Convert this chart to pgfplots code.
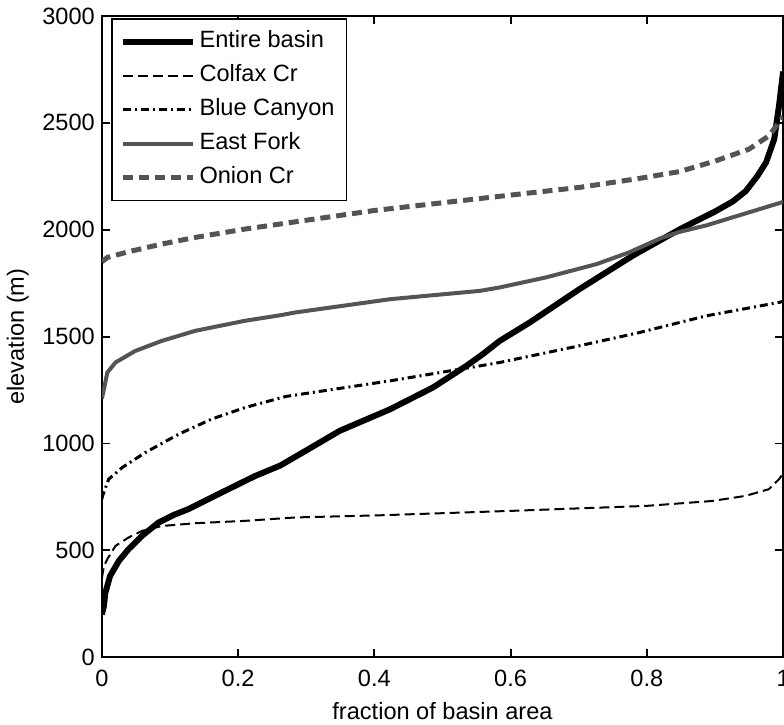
\documentclass[border=0pt]{standalone}
\usepackage{fontspec}
\setmainfont{Liberation Sans}
\usepackage{pgfplots}
\pgfplotsset{compat=1.18}
\begin{document}
\begin{tikzpicture}
\begin{axis}[
    scale only axis,
    width=341pt, height=321pt,
    xmin=0, xmax=1, ymin=0, ymax=3000,
    xtick={0,0.2,0.4,0.6,0.8,1},
    ytick={0,500,1000,1500,2000,2500,3000},
    tick align=inside,
    major tick length=4pt,
    axis line style={line width=0.9pt},
    every tick/.style={line width=0.9pt, black},
    /pgf/number format/assume math mode=true,
    /pgf/number format/1000 sep={},
    tick label style={font=\fontsize{11.8}{14}\selectfont},
    xticklabel style={yshift=-3pt},
    label style={font=\fontsize{11.8}{14}\selectfont},
    xlabel={fraction of basin area},
    xlabel style={yshift=-1pt},
    ylabel={elevation (m)},
    legend cell align=left,
    legend image code/.code={\draw[#1] (0pt,0pt) -- (35pt,0pt);},
    legend style={at={(0.013,0.997)}, anchor=north west, draw=black,
        line width=0.9pt, inner xsep=4pt, inner ysep=3pt, row sep=0pt,
        font=\fontsize{11.8}{14}\selectfont,
        nodes={text height=8.3pt, text depth=2.5pt, inner ysep=3.1pt}},
]
\coordinate (sw) at (rel axis cs:0,0);
\coordinate (ne) at (rel axis cs:1,1);

% Entire basin
\addplot[black, line width=3pt] coordinates {
(0,200) (0.003,240) (0.005,300) (0.012,380) (0.025,451) (0.039,505)
(0.059,568) (0.083,630) (0.105,665) (0.127,693) (0.176,771) (0.225,848)
(0.262,897) (0.303,973) (0.349,1059) (0.423,1160) (0.486,1262) (0.535,1363)
(0.56,1420) (0.584,1480) (0.628,1566) (0.701,1722) (0.78,1880) (0.85,2005)
(0.9,2085) (0.926,2132) (0.945,2180) (0.962,2250) (0.975,2315) (0.987,2424)
(0.994,2580) (1.0,2740)
};
\addlegendentry{Entire basin}

% Colfax Cr
\addplot[black, line width=1pt, dash pattern=on 5pt off 2.5pt] coordinates {
(0,370) (0.003,427) (0.008,459) (0.02,521) (0.039,560) (0.059,591)
(0.088,614) (0.137,627) (0.21,638) (0.284,654) (0.408,664) (0.603,685)
(0.799,708) (0.896,731) (0.945,755) (0.979,786) (0.994,833) (1.0,860)
};
\addlegendentry{Colfax Cr}

% Blue Canyon
\addplot[black, line width=1.5pt, dash pattern=on 4pt off 2pt on 1pt off 2pt] coordinates {
(0,740) (0.001,755) (0.01,833) (0.03,888) (0.064,958) (0.113,1044)
(0.161,1114) (0.21,1168) (0.27,1220) (0.423,1293) (0.555,1363) (0.584,1379)
(0.701,1457) (0.789,1519) (0.848,1566) (0.887,1597) (0.994,1660) (1.0,1665)
};
\addlegendentry{Blue Canyon}

% East Fork
\addplot[black!67, line width=2pt] coordinates {
(0,1210) (0.003,1254) (0.008,1332) (0.02,1379) (0.049,1433) (0.088,1480)
(0.137,1527) (0.21,1574) (0.262,1600) (0.284,1613) (0.423,1675) (0.555,1714)
(0.584,1730) (0.652,1777) (0.726,1839) (0.774,1894) (0.82,1960) (0.848,1990)
(0.887,2020) (1.0,2130)
};
\addlegendentry{East Fork}

% Onion Cr
\addplot[black!67, line width=2.5pt, dash pattern=on 5pt off 3pt] coordinates {
(0,1850) (0.008,1870) (0.039,1897) (0.088,1933) (0.137,1964) (0.21,2003)
(0.284,2037) (0.4,2090) (0.555,2146) (0.701,2198) (0.789,2240) (0.848,2272)
(0.9,2321) (0.95,2377) (0.979,2439) (0.994,2502) (1.0,2530)
};
\addlegendentry{Onion Cr}
\end{axis}
\pgfresetboundingbox
\path ([shift={(-51pt,-33.5pt)}]sw) rectangle ([shift={(0.45pt,8pt)}]ne);
\end{tikzpicture}
\end{document}
